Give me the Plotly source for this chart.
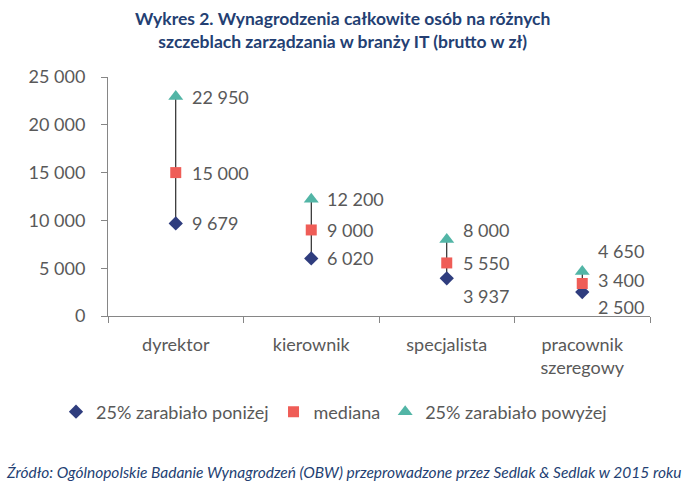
import plotly.graph_objects as go

categories = ["dyrektor", "kierownik", "specjalista", "pracownik<br>szeregowy"]
low = [9679, 6020, 3937, 2500]
median = [15000, 9000, 5550, 3400]
high = [22950, 12200, 8000, 4650]
low_labels = ["9 679", "6 020", "3 937", "2 500"]
median_labels = ["15 000", "9 000", "5 550", "3 400"]
high_labels = ["22 950", "12 200", "8 000", "4 650"]
tick_vals = [0, 5000, 10000, 15000, 20000, 25000]
tick_text = ["0", "5 000", "10 000", "15 000", "20 000", "25 000"]

# label vertical offsets in pixels (style, not data)
low_shift = [0, 0, -18, -15]
median_shift = [0, 0, 0, 4]
high_shift = [0, 0, 10, 21]

FONT = "Lato, Calibri, Carlito, sans-serif"
GRAY = "#595959"
AXIS = "#868686"
NAVY = "#2F3D7E"
RED = "#EF5D57"
TEAL = "#52B5A6"
TITLE = "#243F73"

W, H = 687, 486
pl, pr, pt, pb = 108, 37, 77, 170
pw, ph = W - pl - pr, H - pt - pb

fig = go.Figure()

# high-low lines
lx, ly = [], []
for c, lo, hi in zip(categories, low, high):
    lx += [c, c, None]
    ly += [lo, hi, None]
fig.add_trace(go.Scatter(x=lx, y=ly, mode="lines", line=dict(color="black", width=1),
                         showlegend=False, hoverinfo="skip"))

fig.add_trace(go.Scatter(x=categories, y=low, mode="markers", name="25% zarabiało poniżej",
                         marker=dict(symbol="diamond", size=11, color=NAVY)))
fig.add_trace(go.Scatter(x=categories, y=median, mode="markers", name="mediana",
                         marker=dict(symbol="square", size=11, color=RED)))
fig.add_trace(go.Scatter(x=categories, y=high, mode="markers", name="25% zarabiało powyżej",
                         marker=dict(symbol="triangle-up", size=13, color=TEAL)))

annotations = []
for vals, labels, shifts in [(low, low_labels, low_shift),
                             (median, median_labels, median_shift),
                             (high, high_labels, high_shift)]:
    for c, v, t, s in zip(categories, vals, labels, shifts):
        annotations.append(dict(x=c, y=v, xref="x", yref="y", text=t, showarrow=False,
                                xanchor="left", yanchor="middle", xshift=14, yshift=s,
                                font=dict(family=FONT, size=18, color=GRAY)))


def px_x(x):
    return (x - pl) / pw


def px_y(y):
    return (H - pb - y) / ph


annotations.append(dict(
    text="<b>Wykres 2. Wynagrodzenia całkowite osób na różnych<br>szczeblach zarządzania w branży IT (brutto w zł)</b>",
    x=px_x(342), xref="paper", xanchor="center", y=px_y(30), yref="paper", yanchor="middle",
    showarrow=False, font=dict(family=FONT, size=17.5, color=TITLE), align="center"))
annotations.append(dict(
    text="<i>Źródło: Ogólnopolskie Badanie Wynagrodzeń (OBW) przeprowadzone przez Sedlak & Sedlak w 2015 roku</i>",
    x=px_x(4), xref="paper", y=px_y(472), yref="paper", showarrow=False,
    xanchor="left", yanchor="middle", font=dict(family=FONT, size=15.5, color=TITLE)))

fig.update_layout(
    width=W, height=H,
    margin=dict(l=pl, r=pr, t=pt, b=pb, autoexpand=False),
    paper_bgcolor="white", plot_bgcolor="white",
    font=dict(family=FONT, size=18, color=GRAY),
    showlegend=True,
    legend=dict(orientation="h", xref="paper", yref="paper",
                x=px_x(56), xanchor="left", y=px_y(412), yanchor="middle",
                font=dict(family=FONT, size=18, color=GRAY), itemwidth=30,
                tracegroupgap=0),
    xaxis=dict(type="category", range=[-0.5, 3.5], showline=True, linecolor=AXIS, linewidth=1,
               ticks="outside", tickson="boundaries", ticklen=6, tickcolor=AXIS,
               showgrid=False, zeroline=False, ticklabelstandoff=12, automargin=False,
               tickfont=dict(family=FONT, size=18, color=GRAY)),
    yaxis=dict(range=[0, 25000], showline=True, linecolor=AXIS, linewidth=1,
               ticks="outside", ticklen=6, tickcolor=AXIS, showgrid=False, zeroline=False,
               tickvals=tick_vals, ticktext=tick_text, ticklabelstandoff=12, automargin=False,
               tickfont=dict(family=FONT, size=18, color=GRAY)),
    annotations=annotations,
)

fig.write_html("out.html")
